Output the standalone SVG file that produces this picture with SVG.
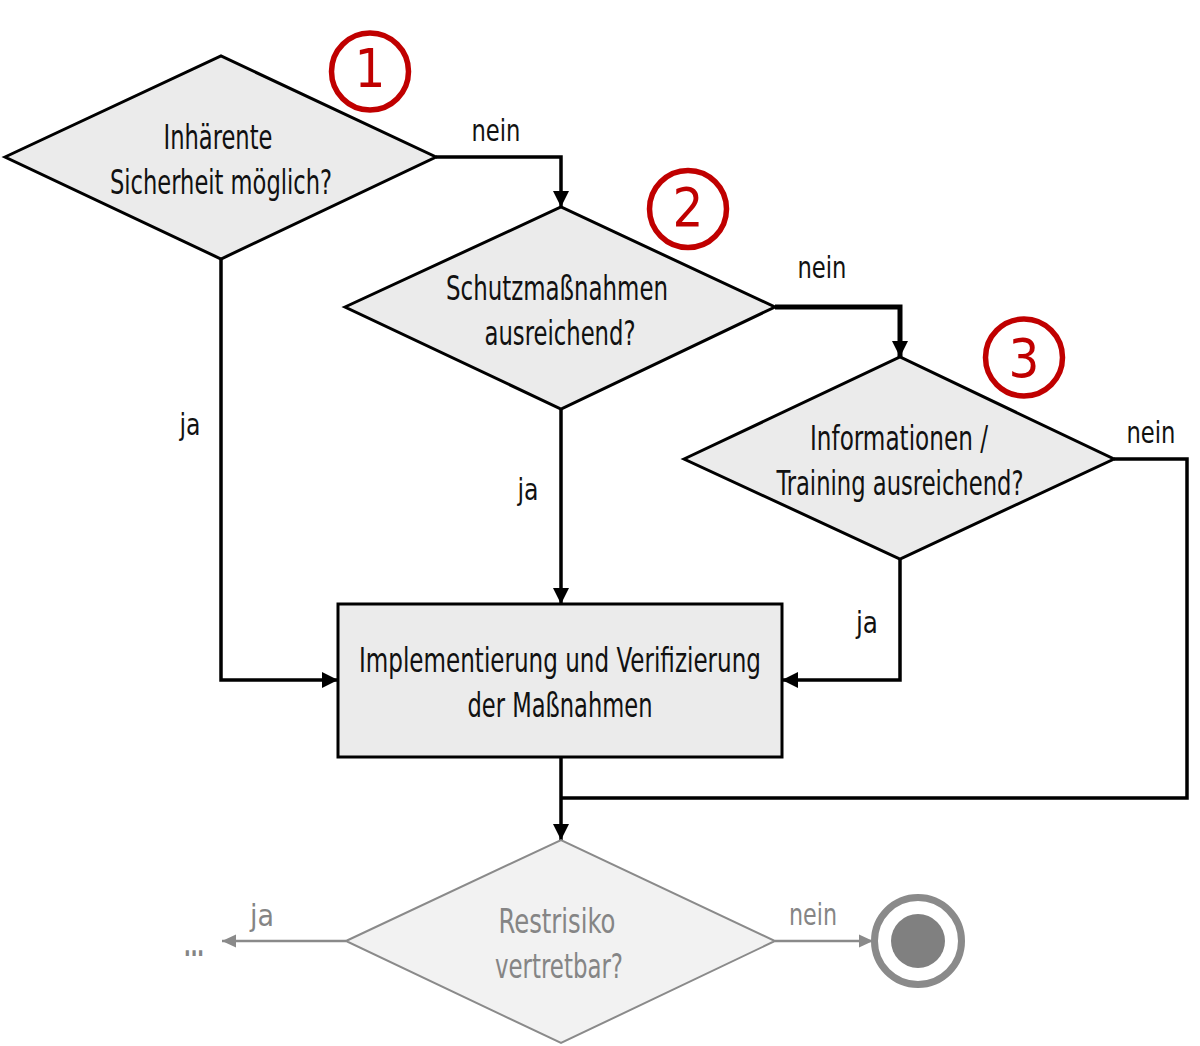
<svg xmlns="http://www.w3.org/2000/svg" width="1200" height="1046" viewBox="0 0 1200 1046">
<defs>
<style>
text{font-family:"Liberation Sans Narrow","DejaVu Sans Condensed","Liberation Sans",sans-serif;text-anchor:middle;}
.node{fill:#ebebeb;stroke:#000;stroke-width:3;}
.gnode{fill:#f2f2f2;stroke:#8a8a8a;stroke-width:2;}
.t{font-size:33px;fill:#111;}
.gt{font-size:33px;fill:#858585;}
.lbl{font-size:31px;fill:#111;}
.glbl{font-size:31px;fill:#858585;}
.edge{fill:none;stroke:#000;stroke-width:3.5;}
.gedge{fill:none;stroke:#8a8a8a;stroke-width:2.5;}
.badge circle{fill:none;stroke:#c00000;stroke-width:5.5;}
.badge text{font-size:54px;fill:#c00000;}
</style>
<marker id="ah" markerUnits="userSpaceOnUse" markerWidth="16" markerHeight="16" refX="14" refY="7" orient="auto" viewBox="0 0 14 14">
<path d="M0,0 L14,7 L0,14 z" fill="#000"/>
</marker>
<marker id="gah" markerUnits="userSpaceOnUse" markerWidth="14" markerHeight="14" refX="13" refY="6" orient="auto" viewBox="0 0 13 12">
<path d="M0,0 L13,6 L0,12 z" fill="#8a8a8a"/>
</marker>
</defs>
<rect width="1200" height="1046" fill="#fff"/>

<g id="connectors">
<path class="edge" d="M436,157 H561 V207" marker-end="url(#ah)"/>
<path class="edge" d="M775,307 H900 V357" style="stroke-width:5" marker-end="url(#ah)"/>
<path class="edge" d="M221,259 V680 H338" marker-end="url(#ah)"/>
<path class="edge" d="M561,409 V604" marker-end="url(#ah)"/>
<path class="edge" d="M900,559 V680 H782" marker-end="url(#ah)"/>
<path class="edge" d="M1114,459 H1187 V798 H561"/>
<path class="edge" d="M561,757 V840" marker-end="url(#ah)"/>
<path class="gedge" d="M346,941 H222" marker-end="url(#gah)"/>
<path class="gedge" d="M775,941 H873" marker-end="url(#gah)"/>
<text class="lbl" x="496" y="141" textLength="49" lengthAdjust="spacingAndGlyphs">nein</text>
<text class="lbl" x="822" y="278" textLength="49" lengthAdjust="spacingAndGlyphs">nein</text>
<text class="lbl" x="1151" y="443" textLength="49" lengthAdjust="spacingAndGlyphs">nein</text>
<text class="lbl" x="190" y="435" textLength="21" lengthAdjust="spacingAndGlyphs">ja</text>
<text class="lbl" x="528" y="500" textLength="21" lengthAdjust="spacingAndGlyphs">ja</text>
<text class="lbl" x="867" y="633" textLength="22" lengthAdjust="spacingAndGlyphs">ja</text>
<text class="glbl" x="262" y="926" textLength="24" lengthAdjust="spacingAndGlyphs">ja</text>
<text class="glbl" x="813" y="925" textLength="48" lengthAdjust="spacingAndGlyphs">nein</text>
<text class="glbl" x="194" y="956" textLength="20" lengthAdjust="spacingAndGlyphs" style="font-weight:bold">...</text>
</g>

<g id="d1">
<polygon class="node" points="5,157 221,56 436,157 221,259"/>
<text class="t" x="218" y="149" textLength="109" lengthAdjust="spacingAndGlyphs">Inhärente</text>
<text class="t" x="221" y="194" textLength="222" lengthAdjust="spacingAndGlyphs">Sicherheit möglich?</text>
</g>
<g id="d2">
<polygon class="node" points="345,307 561,207 775,307 561,409"/>
<text class="t" x="557" y="300" textLength="222" lengthAdjust="spacingAndGlyphs">Schutzmaßnahmen</text>
<text class="t" x="560" y="345" textLength="151" lengthAdjust="spacingAndGlyphs">ausreichend?</text>
</g>
<g id="d3">
<polygon class="node" points="684,459 900,357 1114,459 900,559"/>
<text class="t" x="899" y="450" textLength="178" lengthAdjust="spacingAndGlyphs">Informationen /</text>
<text class="t" x="900" y="495" textLength="247" lengthAdjust="spacingAndGlyphs">Training ausreichend?</text>
</g>
<g id="impl">
<rect class="node" x="338" y="604" width="444" height="153"/>
<text class="t" x="560" y="672" textLength="402" lengthAdjust="spacingAndGlyphs">Implementierung und Verifizierung</text>
<text class="t" x="560" y="717" textLength="185" lengthAdjust="spacingAndGlyphs">der Maßnahmen</text>
</g>
<g id="d4">
<polygon class="gnode" points="346,941 561,840 775,941 561,1043"/>
<text class="gt" x="557" y="933" textLength="117" lengthAdjust="spacingAndGlyphs">Restrisiko</text>
<text class="gt" x="559" y="978" textLength="128" lengthAdjust="spacingAndGlyphs">vertretbar?</text>
</g>
<g id="end">
<circle cx="918" cy="941" r="43.5" fill="#fff" stroke="#8a8a8a" stroke-width="7"/>
<circle cx="918" cy="941" r="27" fill="#808080"/>
</g>
<g id="badge1" class="badge">
<circle cx="370" cy="71.5" r="38.5"/>
<text x="370" y="87">1</text>
</g>
<g id="badge2" class="badge">
<circle cx="688" cy="209" r="38.5"/>
<text x="688" y="226">2</text>
</g>
<g id="badge3" class="badge">
<circle cx="1024" cy="357.5" r="38.5"/>
<text x="1024" y="377">3</text>
</g>
</svg>
